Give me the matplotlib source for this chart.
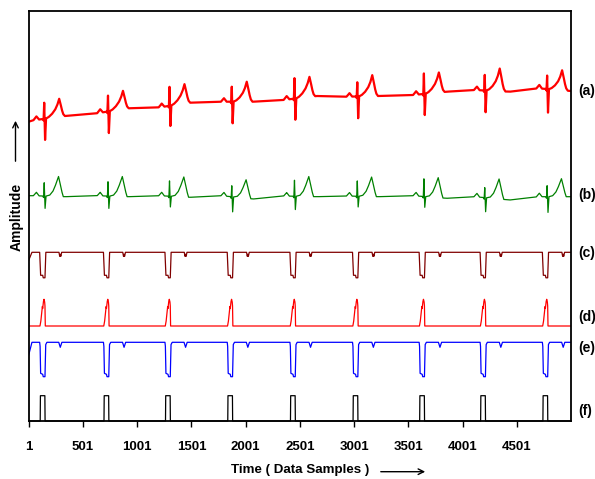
import numpy as np
import matplotlib
matplotlib.use("Agg")
import matplotlib.pyplot as plt
from matplotlib.transforms import blended_transform_factory

plt.rcParams['font.family'] = ['Liberation Sans', 'DejaVu Sans']

# ---------------- data ----------------
n_samples = 5000
x_ticks = [1, 501, 1001, 1501, 2001, 2501, 3001, 3501, 4001, 4501]
trace_labels = ['(a)', '(b)', '(c)', '(d)', '(e)', '(f)']

# R-peak sample positions and detection-window starts
r_peaks = [144, 732, 1299, 1873, 2451, 3030, 3644, 4205, 4780]
pulse_start = [108, 696, 1263, 1837, 2415, 2992, 3606, 4168, 4742]
pulse_width = 42

# (a) raw ECG: baseline wander knots and per-beat wave amplitudes
a_base_x = [1, 44, 335, 627, 918, 1211, 1487, 1779, 2070, 2347, 2654, 2931,
            3222, 3545, 3852, 4113, 4435, 4696, 5000]
a_base_y = [-0.7, 0.7, 5.0, 7.7, 12.7, 13.7, 18.3, 19.3, 19.3, 21.0, 25.0,
            24.3, 25.0, 26.0, 29.3, 31.0, 29.3, 32.7, 30.0]
a_r = [16.1, 15.9, 19.0, 15.0, 20.5, 14.2, 20.5, 15.6, 13.5]
a_s = [21.2, 21.7, 20.3, 21.6, 21.2, 21.8, 21.2, 21.7, 23.5]
a_t = [18.0, 18.3, 19.4, 20.0, 20.0, 21.0, 20.0, 22.7, 20.0]

# (b) filtered ECG
b_base_y = [0.3, 0.3, -0.7, 0.3, -0.7, 0.3, -1.3, 0.3, -3.0, 0.0, -0.7, 0.0,
            -0.7, 0.3, -2.3, -0.7, -4.0, -0.7, -0.7]
b_r = [13.3, 14.3, 15.3, 11.0, 16.0, 15.3, 17.7, 10.0, 11.0]
b_s = [12.3, 12.3, 10.7, 15.0, 13.3, 10.7, 10.7, 14.0, 15.7]
b_t = [20.0, 20.0, 20.0, 18.5, 20.0, 19.5, 20.0, 20.0, 18.0]

# wave shapes (offset from R in samples, relative value)
p_off = [-100, -85, -72, -60, -48]
p_val = [0.0, 0.5, 1.0, 0.5, 0.0]
p_amp = 3.5
qrs_off = [-14, -6, 0, 8, 16]
a_t_off = [16, 40, 70, 100, 120, 138, 150, 162, 175, 190]
a_t_val = [0.0, 0.06, 0.2, 0.42, 0.66, 1.0, 0.72, 0.38, 0.12, 0.0]
b_t_off = [16, 50, 80, 100, 118, 132, 145, 160, 175]
b_t_val = [0.0, 0.05, 0.25, 0.5, 0.78, 1.0, 0.7, 0.3, 0.0]

# (c) and (e): inverted window traces (offset from window start)
c_dip_off = [-6, 2, 22, 26, 43, 50]
c_dip_val = [0.0, -23.0, -23.0, -25.5, -25.5, 0.0]
c_notch_off = [136, 143, 148, 153, 160]
c_notch_val = [0.0, -4.0, -2.0, -4.0, 0.0]
c_start_off = [1, 30]
c_start_val = [-8.0, 0.0]
e_dip_off = [-6, -2, 2, 22, 26, 43, 49, 60]
e_dip_val = [0.0, -4.0, -31.0, -32.0, -34.4, -34.4, -2.5, 0.0]
e_notch_off = [134, 148, 162]
e_notch_val = [0.0, -5.0, 0.0]
e_start_off = [1, 30]
e_start_val = [-12.7, 0.0]

# (d): energy-like pulse (offset from window start)
d_off = [-3, 4, 10, 16, 19, 22, 28, 34, 40, 43, 45]
d_val = [0.0, 4.0, 10.0, 17.0, 19.5, 17.5, 24.0, 26.7, 24.0, 20.0, 0.0]

# (f): rectangular detection pulses
f_height = 25.3

# ---------------- layout (positions, not data) ----------------
offsets = {'a': 300.0, 'b': 225.0, 'c': 168.7, 'd': 95.0, 'e': 78.7, 'f': 0.0}
label_y = [329.5, 225.5, 168.0, 104.0, 73.0, 10.0]

x = np.arange(1, n_samples + 1)


def shape(centers, offs, vals, scales=None):
    out = np.zeros_like(x, dtype=float)
    for i, c in enumerate(centers):
        s = 1.0 if scales is None else scales[i]
        out += np.interp(x, c + np.array(offs), np.array(vals) * s, left=0, right=0)
    return out


def ecg(base_y, r, s, t, t_off, t_val):
    sig = np.interp(x, a_base_x, base_y)
    sig += shape(r_peaks, p_off, p_val, [p_amp] * len(r_peaks))
    for i, rp in enumerate(r_peaks):
        sig += np.interp(x, rp + np.array(qrs_off), [0, -1.5, r[i], -s[i], 0], left=0, right=0)
    sig += shape(r_peaks, t_off, t_val, t)
    return sig


sig_a = ecg(a_base_y, a_r, a_s, a_t, a_t_off, a_t_val) + offsets['a']
sig_b = ecg(b_base_y, b_r, b_s, b_t, b_t_off, b_t_val) + offsets['b']
sig_c = (shape(pulse_start, c_dip_off, c_dip_val) + shape(r_peaks, c_notch_off, c_notch_val)
         + np.interp(x, c_start_off, c_start_val, right=0) + offsets['c'])
sig_d = shape(pulse_start, d_off, d_val) + offsets['d']
sig_e = (shape(pulse_start, e_dip_off, e_dip_val) + shape(r_peaks, e_notch_off, e_notch_val)
         + np.interp(x, e_start_off, e_start_val, right=0) + offsets['e'])
sig_f = np.zeros_like(x, dtype=float)
for s0 in pulse_start:
    sig_f[(x >= s0) & (x <= s0 + pulse_width)] = f_height
sig_f += offsets['f']

# ---------------- figure ----------------
W, H = 595, 479
fig = plt.figure(figsize=(W / 100, H / 100), dpi=100)
ax = fig.add_axes([28.7 / W, 1 - 421 / H, (571 - 28.7) / W, (421 - 11.5) / H])

ax.plot(x, sig_a, color='#ff0000', lw=1.6)
ax.plot(x, sig_b, color='#008000', lw=0.9)
ax.plot(x, sig_c, color='#800000', lw=0.9)
ax.plot(x, sig_d, color='#ff0000', lw=0.9)
ax.plot(x, sig_e, color='#0000ff', lw=0.9)
ax.plot(x, sig_f, color='black', lw=0.9, clip_on=False)

ax.set_xlim(1, n_samples)
ax.set_ylim(0, 409.5)
ax.set_xticks(x_ticks)
ax.set_xticklabels([str(t) for t in x_ticks], fontweight='bold', fontsize=9.5)
ax.set_yticks([])
ax.tick_params(axis='x', direction='out', length=4.5, width=1, pad=10)
for sp in ax.spines.values():
    sp.set_linewidth(1.3)

tr = blended_transform_factory(ax.transAxes, ax.transData)
for lab, ly in zip(trace_labels, label_y):
    ax.text(1.0135, ly, lab, transform=tr, ha='left', va='center',
            fontweight='bold', fontsize=10)

fig.text(300 / W, 1 - 470 / H, 'Time ( Data Samples )', ha='center', va='center',
         fontweight='bold', fontsize=9.6)
fig.text(16.5 / W, 1 - 216.7 / H, 'Amplitude', ha='center', va='center',
         rotation=90, fontweight='bold', fontsize=10)
ax.annotate('', xy=(428 / W, 1 - 471.7 / H), xytext=(378 / W, 1 - 471.7 / H),
            xycoords='figure fraction', textcoords='figure fraction',
            arrowprops=dict(arrowstyle='->', color='black', lw=1))
ax.annotate('', xy=(15.5 / W, 1 - 118 / H), xytext=(15.5 / W, 1 - 164 / H),
            xycoords='figure fraction', textcoords='figure fraction',
            arrowprops=dict(arrowstyle='->', color='black', lw=1))

fig.savefig('out.png', dpi=100)
